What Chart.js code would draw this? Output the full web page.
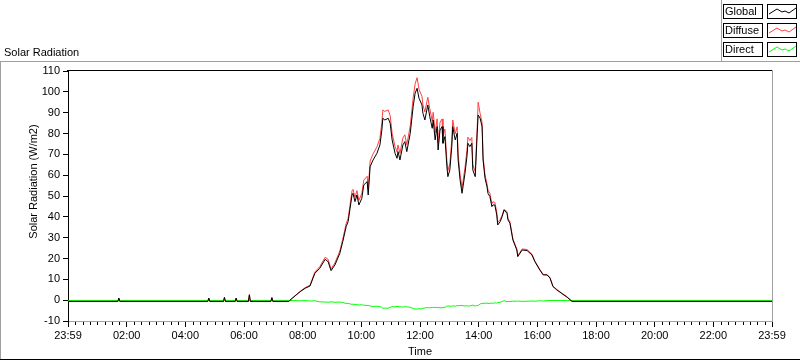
<!DOCTYPE html>
<html><head><meta charset="utf-8">
<script src="https://cdn.jsdelivr.net/npm/chart.js@4.4.1/dist/chart.umd.min.js"></script>
<style>
html,body{margin:0;padding:0;background:#fff;}
#wrap{position:relative;width:800px;height:361px;overflow:hidden;font-family:"Liberation Sans",Arial,sans-serif;font-size:11px;color:#000;background:#fff;}
#c{position:absolute;left:0;top:0;}
.t{position:absolute;white-space:nowrap;line-height:11px;}
.ln{position:absolute;}
.lbox{position:absolute;box-sizing:border-box;border:1px solid #000;height:15px;background:#fff;}
.lbox span{position:absolute;left:1px;top:1px;line-height:11px;}
.lbox svg{position:absolute;left:0;top:0;}
</style></head>
<body><div id="wrap">
<canvas id="c" width="800" height="361"></canvas>
<div class="ln" style="left:0;top:61px;width:800px;height:1px;background:#a0a0a0"></div>
<div class="ln" style="left:0;top:61px;width:1px;height:298px;background:#a0a0a0"></div>
<div class="ln" style="left:0;top:359px;width:800px;height:1px;background:#000"></div>
<div class="ln" style="left:721px;top:0;width:1px;height:61px;background:#a0a0a0"></div>
<div class="t" id="title" style="left:4px;top:47px;">Solar Radiation</div>
<div class="t" id="ytitle" style="left:-67px;top:176px;width:200px;text-align:center;transform:rotate(-90deg);">Solar Radiation (W/m2)</div>
<div class="t" id="xtitle" style="left:320px;top:346px;width:200px;text-align:center;">Time</div>
<div id="legend"></div>
</div>
<script>
// ---- data ----
const seriesNames = ['Global', 'Diffuse', 'Direct'];
const seriesColors = ['#000000', '#ff4040', '#00ff00'];
const yTicks = [-10, 0, 10, 20, 30, 40, 50, 60, 70, 80, 90, 100, 110];
const xTickMinutes = [0, 120, 240, 360, 480, 600, 720, 840, 960, 1080, 1200, 1320, 1440];
const xTickLabels = ['23:59', '02:00', '04:00', '06:00', '08:00', '10:00', '12:00', '14:00', '16:00', '18:00', '20:00', '22:00', '23:59'];

// minutes since start of day
const times = [
  0, 102, 104, 106, 286, 288, 290, 318, 320, 322, 342, 344, 346, 369, 371, 373, 415, 417, 419, 452,
  454, 475, 485, 495, 505, 515, 526, 532, 538, 546,
  556, 562, 569, 573, 577, 581, 583, 587, 591, 595,
  601, 605, 612, 614, 618, 624, 632, 638, 642, 644,
  648, 655, 659, 663, 669, 673, 675, 679, 685, 689,
  693, 700, 706, 710, 714, 718, 724, 726, 730, 734,
  736, 740, 745, 747, 751, 755, 757, 761, 765, 767,
  771, 775, 777, 781, 785, 787, 792, 796, 798, 802,
  806, 808, 812, 816, 818, 822, 826, 828, 833, 837,
  839, 843, 847, 849, 853, 857, 859, 863, 867, 869,
  873, 877, 879, 884, 888, 892, 898, 900, 904, 910,
  918, 920, 929, 939, 949, 955, 965, 972, 980, 986,
  992, 1000, 1010, 1021, 1031, 1440
];
const globalRad = [
  -0.6, -0.6, 1.0, -0.6, -0.6, 1.0, -0.6, -0.6, 1.3, -0.6, -0.6, 1.0, -0.6, -0.6, 2.6, -0.6, -0.6, 1.2, -0.6, -0.6,
  0, 4.1, 5.7, 6.8, 12.9, 15.3, 19.6, 18.5, 14.2, 16.9,
  22.5, 28.1, 35.3, 37.7, 44.1, 50.5, 51.3, 47.3, 50.5, 45.7,
  48.9, 55.3, 56.9, 50.5, 64.1, 67.3, 70.5, 74.5, 81.7, 87.3,
  86.5, 87.3, 84.9, 76.9, 70.5, 68.1, 71.3, 67.3, 74.5, 76.1,
  71.3, 80.1, 92.9, 99.3, 101.7, 96.9, 93.7, 89.7, 86.5, 91.3,
  93.7, 88.1, 82.5, 86.5, 76.9, 83.3, 72.1, 81.7, 83.3, 75.3,
  78.5, 64.1, 59.3, 62.5, 73.7, 83.3, 76.9, 80.1, 67.3, 57.7,
  51.3, 54.5, 60.9, 68.9, 75.3, 73.7, 75.3, 62.5, 59.3, 80.1,
  88.9, 87.3, 83.3, 67.3, 58.5, 54.5, 51.3, 49.7, 44.9, 45.7,
  45.7, 40.9, 36.1, 37.7, 40.1, 43.3, 41.7, 38.5, 36.9, 28.9,
  24.1, 20.9, 24.1, 23.8, 21.7, 18.5, 14.5, 12.1, 12.1, 10.6,
  6.5, 4.9, 3.2, 1.4, -0.6, -0.6
];
const diffuseRad = [
  -0.6, -0.6, 1.0, -0.6, -0.6, 1.0, -0.6, -0.6, 1.3, -0.6, -0.6, 1.0, -0.6, -0.6, 2.6, -0.6, -0.6, 1.2, -0.6, -0.6,
  0, 4.3, 6.0, 7.2, 13.5, 16.1, 20.6, 19.6, 15.0, 17.9,
  23.6, 29.3, 36.8, 39.3, 45.9, 52.5, 53.2, 49.3, 52.6, 47.9,
  51.2, 57.6, 59.5, 53.1, 66.8, 70.2, 73.6, 77.6, 85.4, 91.3,
  90.6, 91.3, 88.5, 80.1, 73.7, 71.2, 74.5, 70.4, 77.9, 79.4,
  74.6, 83.6, 97.0, 103.8, 106.8, 101.2, 97.9, 93.7, 90.3, 95.2,
  97.4, 91.9, 86.1, 90.2, 80.4, 87.0, 75.7, 85.3, 87.0, 78.8,
  82.1, 67.0, 62.2, 65.4, 76.8, 86.5, 79.9, 83.2, 70.1, 60.4,
  53.9, 57.1, 63.6, 71.8, 78.3, 76.6, 78.1, 65.1, 61.7, 83.0,
  95.0, 89.6, 85.3, 69.0, 60.1, 56.0, 52.9, 51.2, 46.3, 47.2,
  47.0, 42.3, 37.3, 38.7, 40.8, 43.6, 42.5, 39.2, 37.6, 29.4,
  24.6, 21.4, 24.6, 24.3, 22.1, 18.8, 14.8, 12.4, 12.3, 10.8,
  6.7, 5.1, 3.4, 1.6, -0.6, -0.6
];
const directRad = [
  -0.15, -0.15, -0.15, -0.15, -0.15, -0.15, -0.15, -0.15, -0.15, -0.15, -0.15, -0.15, -0.15, -0.15, -0.15, -0.15, -0.15, -0.15, -0.15, -0.15,
  -0.15, -0.3, -0.2, -0.4, -0.3, -0.8, -0.9, -1.0, -0.8, -1.0,
  -0.9, -1.1, -1.6, -1.5, -1.8, -2.0, -1.9, -2.1, -2.2, -2.3,
  -2.2, -2.4, -2.6, -2.5, -2.8, -3.0, -2.9, -3.1, -3.5, -3.9,
  -3.8, -3.9, -3.4, -3.1, -3.2, -3.0, -3.1, -3.2, -3.3, -3.1,
  -3.2, -3.4, -4.0, -4.2, -4.3, -4.1, -4.2, -3.9, -3.7, -3.6,
  -3.5, -3.7, -3.5, -3.6, -3.4, -3.6, -3.5, -3.7, -3.6, -3.4,
  -3.5, -2.8, -2.9, -2.8, -3.0, -2.7, -2.9, -2.6, -2.7, -2.6,
  -2.5, -2.7, -2.8, -2.6, -2.9, -2.7, -2.5, -2.4, -2.8, -2.5,
  -2.6, -1.8, -1.6, -1.5, -1.5, -1.4, -1.6, -1.5, -1.4, -1.5,
  -1.3, -1.4, -1.2, -1.0, -0.7, -0.2, -0.8, -0.6, -0.7, -0.5,
  -0.5, -0.4, -0.6, -0.5, -0.4, -0.5, -0.3, -0.4, -0.2, -0.2,
  -0.15, -0.15, -0.15, -0.15, -0.15, -0.15
];
const seriesValues = [globalRad, diffuseRad, directRad];

// ---- legend (HTML) ----
const legend = document.getElementById('legend');
seriesNames.forEach((name, i) => {
  const top = 4 + i * 19;
  const tb = document.createElement('div');
  tb.className = 'lbox';
  tb.style.cssText = 'left:723px;top:' + top + 'px;width:40px;';
  tb.innerHTML = '<span>' + name + '</span>';
  legend.appendChild(tb);
  const sb = document.createElement('div');
  sb.className = 'lbox';
  sb.style.cssText = 'left:767px;top:' + top + 'px;width:30px;';
  sb.innerHTML = '<svg width="28" height="13"><polyline points="1,9 9,4 14,7 17,6 21,8 28,3" fill="none" stroke="' + seriesColors[i] + '" stroke-width="1"/></svg>';
  legend.appendChild(sb);
});

// ---- chart ----
const frame = {
  id: 'frame',
  afterDraw(chart) {
    const {ctx, chartArea: a, scales} = chart;
    ctx.save();
    ctx.fillStyle = '#000';
    ctx.fillRect(a.left - 1, a.top - 1, a.right - a.left + 1, 1);
    ctx.fillStyle = '#a0a0a0';
    ctx.fillRect(a.right, a.top - 1, 1, a.bottom - a.top + 2);
    // minor x ticks every 15 minutes
    ctx.fillStyle = '#000';
    const xs = scales.x;
    for (let m = 15; m < 1440; m += 15) {
      if (m % 120 === 0) continue;
      const px = Math.round(xs.getPixelForValue(m));
      ctx.fillRect(px, a.bottom + 1, 1, 3);
    }
    ctx.restore();
  }
};

const font = {family: '"Liberation Sans", Arial, sans-serif', size: 11};
new Chart(document.getElementById('c'), {
  type: 'line',
  data: {
    datasets: seriesNames.map((name, i) => ({
      label: name,
      data: times.map((t, k) => ({x: t, y: seriesValues[i][k]})),
      borderColor: seriesColors[i],
      borderWidth: 1,
      pointRadius: 0,
      tension: 0,
      fill: false
    }))
  },
  options: {
    responsive: false,
    animation: false,
    devicePixelRatio: 1,
    layout: {padding: {left: 0, top: 71, right: 28, bottom: 0}},
    plugins: {legend: {display: false}, tooltip: {enabled: false}},
    scales: {
      x: {
        type: 'linear',
        min: 0, max: 1440,
        afterBuildTicks: s => { s.ticks = xTickMinutes.map(v => ({value: v})); },
        afterFit: s => { s.height = 40; s.paddingLeft = 0; s.paddingRight = 0; },
        ticks: {
          callback: (v) => { const i = xTickMinutes.indexOf(v); return i >= 0 ? xTickLabels[i] : ''; },
          autoSkip: false, maxRotation: 0, minRotation: 0, padding: 2,
          color: '#000', font
        },
        grid: {drawOnChartArea: false, drawTicks: true, tickLength: 6, color: '#000'},
        border: {display: true, color: '#a0a0a0', width: 1}
      },
      y: {
        type: 'linear',
        min: -10, max: 110,
        afterBuildTicks: s => { s.ticks = yTicks.map(v => ({value: v})); },
        afterFit: s => { s.width = 68; s.paddingTop = 0; s.paddingBottom = 0; },
        ticks: {color: '#000', font, padding: 3},
        grid: {drawOnChartArea: false, drawTicks: true, tickLength: 5, color: '#000'},
        border: {display: true, color: '#000', width: 1}
      }
    }
  },
  plugins: [frame]
});
</script>
</body></html>
